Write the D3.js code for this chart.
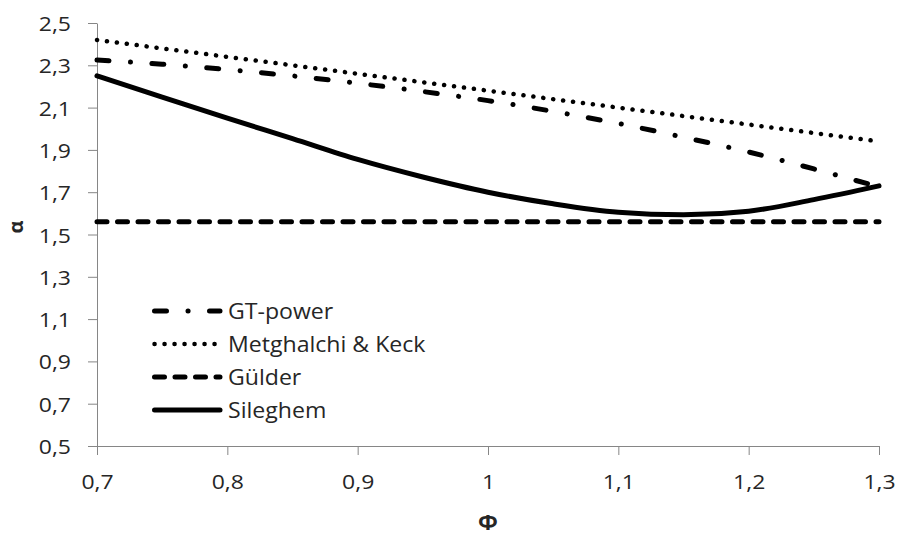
<!DOCTYPE html>
<html><head><meta charset="utf-8">
<script src="https://cdn.jsdelivr.net/npm/d3@7"></script>
<style>
body{margin:0;background:#fff}
svg{display:block}
text{font-family:"Open Sans",sans-serif;fill:#262626}
</style>
</head><body>
<svg id="chart" width="898" height="536"></svg>
<script>
// ---- data ----
const phi        = [0.7, 0.75, 0.8, 0.85, 0.9, 0.95, 1.0, 1.05, 1.1, 1.15, 1.2, 1.25, 1.3];
const gtPower    = [2.325, 2.305, 2.28, 2.25, 2.215, 2.176, 2.133, 2.082, 2.025, 1.96, 1.89, 1.81, 1.725];
const metghalchi = [2.42, 2.38, 2.34, 2.30, 2.26, 2.22, 2.18, 2.14, 2.10, 2.06, 2.02, 1.98, 1.94];
const gulder     = [1.56, 1.56, 1.56, 1.56, 1.56, 1.56, 1.56, 1.56, 1.56, 1.56, 1.56, 1.56, 1.56];
const sileghem   = [2.25, 2.15, 2.05, 1.953, 1.855, 1.772, 1.70, 1.645, 1.605, 1.593, 1.61, 1.665, 1.73];
const seriesNames = ["GT-power", "Metghalchi & Keck", "Gülder", "Sileghem"];
const xTicks      = [0.7, 0.8, 0.9, 1.0, 1.1, 1.2, 1.3];
const xTickLabels = ["0,7", "0,8", "0,9", "1", "1,1", "1,2", "1,3"];
const yTicks      = [0.5, 0.7, 0.9, 1.1, 1.3, 1.5, 1.7, 1.9, 2.1, 2.3, 2.5];
const yTickLabels = ["0,5", "0,7", "0,9", "1,1", "1,3", "1,5", "1,7", "1,9", "2,1", "2,3", "2,5"];
const xTitle = "Φ", yTitle = "α";

// ---- styles ----
const styles = [
  {w: 5,   dash: "12 21.5 0.1 21.4"},
  {w: 4.5, dash: "0.1 9.9"},
  {w: 5,   dash: "10 10.5"},
  {w: 5,   dash: null}
];
const seriesData = [gtPower, metghalchi, gulder, sileghem];

const svg = d3.select("#chart");
const x = d3.scaleLinear().domain([0.7, 1.3]).range([97, 879]);
const y = d3.scaleLinear().domain([0.5, 2.5]).range([446, 23]);
const axisColor = "#868686";
const stretch = 1.12;

// y axis
const gy = svg.append("g").attr("transform", "translate(97,0)")
  .call(d3.axisLeft(y).tickValues(yTicks).tickSize(9).tickSizeOuter(0)
        .tickFormat((d, i) => yTickLabels[i]));
gy.select(".domain").attr("stroke", axisColor);
gy.selectAll(".tick line").attr("stroke", axisColor);
gy.selectAll(".tick text").attr("x", null).attr("dy", null)
  .attr("transform", `translate(-26,7.5) scale(${stretch},1)`)
  .style("font-size", "20.5px").style("fill", "#262626");

// x axis
const gx = svg.append("g").attr("transform", "translate(0,446)")
  .call(d3.axisBottom(x).tickValues(xTicks).tickSize(9).tickSizeOuter(0)
        .tickFormat((d, i) => xTickLabels[i]));
gx.select(".domain").attr("stroke", axisColor);
gx.selectAll(".tick line").attr("stroke", axisColor);
gx.selectAll(".tick text").attr("y", null).attr("dy", null)
  .attr("transform", `translate(0,43) scale(${stretch},1)`)
  .style("font-size", "20.5px").style("fill", "#262626");
gy.attr("font-family", null); gx.attr("font-family", null);

// titles
svg.append("text").attr("transform", "translate(488,530) scale(1.1,1)")
  .attr("text-anchor", "middle").style("font-size", "21px").style("font-weight", "bold").text(xTitle);
svg.append("text").attr("transform", "translate(23,227) rotate(-90)")
  .attr("text-anchor", "middle").style("font-size", "20px").style("font-weight", "bold").text(yTitle);

// lines
const line = d3.line().x(d => x(d[0])).y(d => y(d[1])).curve(d3.curveMonotoneX);
seriesData.forEach((vals, i) => {
  const pts = phi.map((p, j) => [p, vals[j]]);
  svg.append("path").datum(pts)
    .attr("d", line)
    .attr("fill", "none")
    .attr("stroke", "#000")
    .attr("stroke-width", styles[i].w)
    .attr("stroke-linecap", "round")
    .attr("stroke-dasharray", styles[i].dash);
});

// legend
const legendRows = [311, 344, 377, 410];
seriesNames.forEach((name, i) => {
  const ry = legendRows[i];
  svg.append("line").attr("x1", 154.5).attr("x2", 220).attr("y1", ry).attr("y2", ry)
    .attr("stroke", "#000").attr("stroke-width", styles[i].w)
    .attr("stroke-linecap", "round").attr("stroke-dasharray", styles[i].dash);
  svg.append("text").attr("transform", `translate(228,${ry + 7.5}) scale(1.1,1)`)
    .style("font-size", "21px").text(name);
});
</script>
</body></html>
